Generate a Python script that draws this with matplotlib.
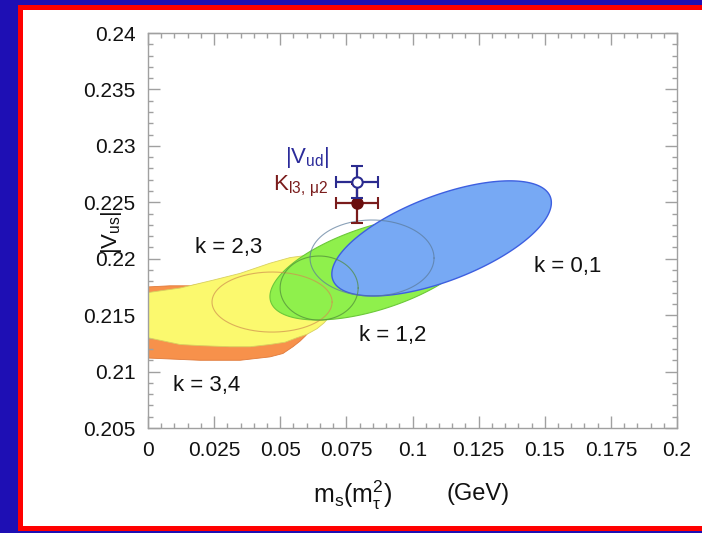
import numpy as np
import matplotlib
matplotlib.use("Agg")
import matplotlib.pyplot as plt
from matplotlib.patches import Rectangle, Polygon
from matplotlib.ticker import MultipleLocator, FuncFormatter

plt.rcParams['font.family'] = ['Liberation Sans', 'DejaVu Sans']
plt.rcParams['mathtext.fontset'] = 'custom'
plt.rcParams['mathtext.rm'] = 'Liberation Sans'
plt.rcParams['mathtext.it'] = 'Liberation Sans'
plt.rcParams['mathtext.bf'] = 'Liberation Sans:bold'

# ---- data ----
x_ticks = [0, 0.025, 0.05, 0.075, 0.1, 0.125, 0.15, 0.175, 0.2]
y_ticks = [0.205, 0.21, 0.215, 0.22, 0.225, 0.23, 0.235, 0.24]

# orange band (k = 3,4): upper / lower boundary
orange_top_x = [0, 0.0083, 0.0159, 0.0300, 0.0500, 0.0620]
orange_top_y = [0.2175, 0.2176, 0.2176, 0.2182, 0.2195, 0.2190]
orange_bot_x = [0, 0.0197, 0.0348, 0.0461, 0.0510, 0.0548, 0.0575, 0.0597, 0.0620, 0.0643]
orange_bot_y = [0.2112, 0.2110, 0.2110, 0.2113, 0.2116, 0.2122, 0.2127, 0.2132, 0.2139, 0.2146]

# yellow band (k = 2,3)
yellow_top_x = [0, 0.0121, 0.0246, 0.0348, 0.0461, 0.0537, 0.0601, 0.0643, 0.0673, 0.0696, 0.0707, 0.0711]
yellow_top_y = [0.2170, 0.2174, 0.2181, 0.2187, 0.2196, 0.2201, 0.2203, 0.2202, 0.2199, 0.2192, 0.2183, 0.2172]
yellow_bot_x = [0, 0.0121, 0.0197, 0.0310, 0.0386, 0.0461, 0.0518, 0.0563, 0.0601, 0.0639, 0.0665, 0.0688, 0.0703, 0.0711]
yellow_bot_y = [0.2130, 0.2124, 0.2123, 0.2122, 0.2122, 0.2124, 0.2126, 0.2130, 0.2133, 0.2138, 0.2143, 0.2149, 0.2156, 0.2163]

# correlated ellipses: centre x, centre y, half-width x, half-height y, correlation
green_ell = [0.0858, 0.21918, 0.0397, 0.00461, 0.55]   # k = 1,2
blue_ell = [0.111, 0.2218, 0.0415, 0.0051, 0.62]       # k = 0,1

# thin outline ellipses: centre x, centre y, half-width, half-height
yellow_outline = [0.0469, 0.21616, 0.0227, 0.00266]
green_outline = [0.0647, 0.2174, 0.01475, 0.00284]
blue_outline = [0.0847, 0.22006, 0.02344, 0.00337]

# points with error bars
vud_x, vud_y, vud_xerr, vud_yerr = 0.079, 0.2268, 0.008, 0.0014
kl3_x, kl3_y, kl3_xerr, kl3_yerr = 0.079, 0.2249, 0.008, 0.0017

region_labels = ["k = 2,3", "k = 0,1", "k = 1,2", "k = 3,4"]
label_x = [0.0306, 0.1588, 0.0926, 0.0223]
label_y = [0.22095, 0.21927, 0.21324, 0.20881]


def ellipse_pts(cx, cy, sx, sy, rho=0.0, n=300):
    t = np.linspace(0, 2 * np.pi, n)
    x = cx + sx * np.cos(t)
    y = cy + sy * (rho * np.cos(t) + np.sqrt(1 - rho ** 2) * np.sin(t))
    return x, y


W, H = 702, 533
fig = plt.figure(figsize=(W / 100, H / 100), dpi=100)
fig.patch.set_facecolor('#1e0fb4')
# white panel with red frame
frame = Rectangle((19.5 / W, 5.0 / H), 1.1, 1 - 11.8 / H,
                  transform=fig.transFigure, facecolor='white',
                  edgecolor='#ff0000', linewidth=3.6, zorder=-10)
fig.patches.append(frame)

ax = fig.add_axes([148 / W, 1 - 428 / H, (677 - 148) / W, (428 - 33) / H])
ax.set_zorder(5)
ax.set_facecolor('white')
ax.set_xlim(0, 0.2)
ax.set_ylim(0.205, 0.24)

# orange
ox = list(orange_top_x) + list(orange_bot_x[::-1])
oy = list(orange_top_y) + list(orange_bot_y[::-1])
ax.add_patch(Polygon(np.column_stack([ox, oy]), closed=True, facecolor='#f7914b',
                     edgecolor='#e07a3a', linewidth=0.6, joinstyle='round', zorder=1))
# yellow
yx = list(yellow_top_x) + list(yellow_bot_x[::-1])
yy = list(yellow_top_y) + list(yellow_bot_y[::-1])
ax.add_patch(Polygon(np.column_stack([yx, yy]), closed=True, facecolor='#fbf96e',
                     edgecolor='#d8d060', linewidth=0.6, joinstyle='round', zorder=2))
# green
gx, gy = ellipse_pts(*green_ell)
ax.fill(gx, gy, facecolor='#8ff04c', edgecolor='#6cc83a', linewidth=0.8, zorder=3)
# blue
bx, by = ellipse_pts(*blue_ell)
ax.fill(bx, by, facecolor='#77a9f4', edgecolor='#3d5fe0', linewidth=1.0, zorder=4)

# outline ellipses
for params, col in [(yellow_outline, '#d09050'), (green_outline, '#4f8a3a'),
                    (blue_outline, '#5a7a9a')]:
    ex, ey = ellipse_pts(*params)
    ax.plot(ex, ey, color=col, linewidth=0.8, alpha=0.7, zorder=5)

# points
ax.errorbar([vud_x], [vud_y], xerr=[vud_xerr], yerr=[vud_yerr], fmt='o',
            color='#2b2b8f', mfc='white', mec='#2b2b8f', ms=7.5, mew=1.5,
            elinewidth=1.6, capsize=4, capthick=1.6, zorder=7)
ax.errorbar([kl3_x], [kl3_y], xerr=[kl3_xerr], yerr=[kl3_yerr], fmt='o',
            color='#7a1c1c', mfc='#6a0e0e', mec='#6a0e0e', ms=7.5, mew=1.5,
            elinewidth=1.6, capsize=4, capthick=1.6, zorder=6)

ax.text(0.0601, 0.22901, r'$|\mathrm{V}_{\mathrm{ud}}|$', color='#2b2b9a',
        fontsize=16, ha='center', va='center', zorder=8)
ax.text(0.0575, 0.22644, r'$\mathrm{K}_{\mathrm{l3,\,\mu2}}$', color='#7a1c1c',
        fontsize=16, ha='center', va='center', zorder=8)

for s, lx, ly in zip(region_labels, label_x, label_y):
    ax.text(lx, ly, s, fontsize=16, ha='center', va='center', color='#111111', zorder=8)

# ticks
ax.set_xticks(x_ticks)
ax.set_yticks(y_ticks)
fmt = FuncFormatter(lambda v, p: ('%g' % round(v, 4)))
ax.xaxis.set_major_formatter(fmt)
ax.yaxis.set_major_formatter(fmt)
ax.xaxis.set_minor_locator(MultipleLocator(0.005))
ax.yaxis.set_minor_locator(MultipleLocator(0.001))
ax.tick_params(which='both', direction='in', top=True, right=True, color='#a0a0a0',
               width=1.0, labelsize=15, labelcolor='#111111')
ax.tick_params(which='major', length=8.5)
ax.tick_params(which='minor', length=3.6)
ax.tick_params(axis='y', which='major', pad=9)
ax.tick_params(axis='x', which='major', pad=9)
for sp in ax.spines.values():
    sp.set_color('#a0a0a0')
    sp.set_linewidth(1.0)

# axis labels
fig.text(112 / W, 1 - 232 / H, r'$|\mathrm{V}_{\mathrm{us}}|$', rotation=90,
         fontsize=16, ha='center', va='center', color='#111111')
fig.text(353 / W, 1 - 495 / H, r'$\mathrm{m_s(m_\tau^2)}$', fontsize=18,
         ha='center', va='center', color='#111111')
fig.text(478 / W, 1 - 494 / H, '(GeV)', fontsize=17, ha='center', va='center',
         color='#111111')

fig.savefig('out.png', dpi=100, facecolor=fig.get_facecolor())
